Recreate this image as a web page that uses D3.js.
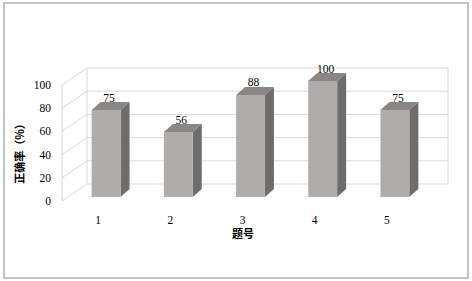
<!DOCTYPE html>
<meta charset="utf-8">
<style>
  body { margin: 0; background: #fff; }
  .tick-label { font-family: "Liberation Serif", "Times New Roman", "DejaVu Serif", serif; font-size: 11.5px; fill: #000; }
  .cn { font-family: "Noto Sans CJK SC", sans-serif; font-size: 11px; font-weight: bold; fill: #000; }
  .grid { stroke: #d9d9d9; stroke-width: 1; fill: none; }
</style>
<svg width="472" height="281"></svg>
<script src="https://d3js.org/d3.v7.min.js"></script>
<script>
var categories = ["1", "2", "3", "4", "5"];
var values = [75, 56, 88, 100, 75];
var yTicks = [0, 20, 40, 60, 80, 100];

var svg = d3.select("svg");

// outer frame
svg.append("rect")
    .attr("x", 4).attr("y", 3)
    .attr("width", 464).attr("height", 275)
    .attr("fill", "none")
    .attr("stroke", "#c4c4c4")
    .attr("stroke-width", 2);

// front plane of the 3d box, the back wall is offset by (wallDx, wallDy)
var wallDx = 25, wallDy = -17;
var x = d3.scaleBand()
    .domain(categories)
    .range([62, 423])
    .paddingInner(0.6)
    .paddingOuter(0.3);
var xLab = d3.scaleBand().domain(categories).range([62, 423]);
var y = d3.scaleLinear().domain([0, 100]).range([201, 85]);

var grid = svg.append("g");
yTicks.forEach(function(t) {
  // back wall line
  grid.append("line").attr("class", "grid")
      .attr("x1", 62 + wallDx).attr("x2", 423 + wallDx)
      .attr("y1", y(t) + wallDy).attr("y2", y(t) + wallDy);
  // side wall line
  grid.append("line").attr("class", "grid")
      .attr("x1", 62).attr("x2", 62 + wallDx)
      .attr("y1", y(t)).attr("y2", y(t) + wallDy);
});
grid.append("line").attr("class", "grid")
    .attr("x1", 62 + wallDx).attr("x2", 62 + wallDx)
    .attr("y1", y(100) + wallDy).attr("y2", y(0) + wallDy);
grid.append("line").attr("class", "grid")
    .attr("x1", 423 + wallDx).attr("x2", 423 + wallDx)
    .attr("y1", y(100) + wallDy).attr("y2", y(0) + wallDy);
grid.append("line").attr("class", "grid")
    .attr("x1", 62).attr("x2", 62)
    .attr("y1", y(100)).attr("y2", y(0));

// y tick labels
svg.append("g").selectAll("text")
    .data(yTicks).enter().append("text")
    .attr("class", "tick-label")
    .attr("x", 51)
    .attr("y", function(d) { return y(d) + 4; })
    .attr("text-anchor", "end")
    .text(function(d) { return d; });

// bars (front face sits a little into the box)
var barDx = 8, barDy = -4;   // offset of bar front from front plane
var depthX = 9, depthY = -8; // bar depth
var bars = svg.append("g").selectAll("g")
    .data(values).enter().append("g");

bars.each(function(v, i) {
  var g = d3.select(this);
  var x0 = x(categories[i]) + barDx, x1 = x0 + x.bandwidth();
  var yt = y(v) + barDy, yb = y(0) + barDy;
  // side
  g.append("path")
      .attr("d", "M" + x1 + "," + yt + "L" + (x1 + depthX) + "," + (yt + depthY) +
                 "L" + (x1 + depthX) + "," + (yb + depthY) + "L" + x1 + "," + yb + "Z")
      .attr("fill", "#6f6d6c");
  // top
  g.append("path")
      .attr("d", "M" + x0 + "," + yt + "L" + (x0 + depthX) + "," + (yt + depthY) +
                 "L" + (x1 + depthX) + "," + (yt + depthY) + "L" + x1 + "," + yt + "Z")
      .attr("fill", "#898786");
  // front
  g.append("rect")
      .attr("x", x0).attr("y", yt)
      .attr("width", x1 - x0).attr("height", yb - yt)
      .attr("fill", "#afacaa");
  // value label
  g.append("text")
      .attr("class", "tick-label")
      .attr("x", (x0 + x1) / 2 + 3)
      .attr("y", yt + depthY - 0.5)
      .attr("text-anchor", "middle")
      .text(v);
});

// category labels
svg.append("g").selectAll("text")
    .data(categories).enter().append("text")
    .attr("class", "tick-label")
    .attr("x", function(d) { return xLab(d) + xLab.bandwidth() / 2; })
    .attr("y", 224)
    .attr("text-anchor", "middle")
    .text(function(d) { return d; });

// axis titles
svg.append("text")
    .attr("class", "cn")
    .attr("x", 243).attr("y", 238)
    .attr("text-anchor", "middle")
    .text("题号");

svg.append("text")
    .attr("class", "cn")
    .attr("transform", "translate(24,151) rotate(-90)")
    .attr("text-anchor", "middle")
    .text("正确率（%）");
</script>
